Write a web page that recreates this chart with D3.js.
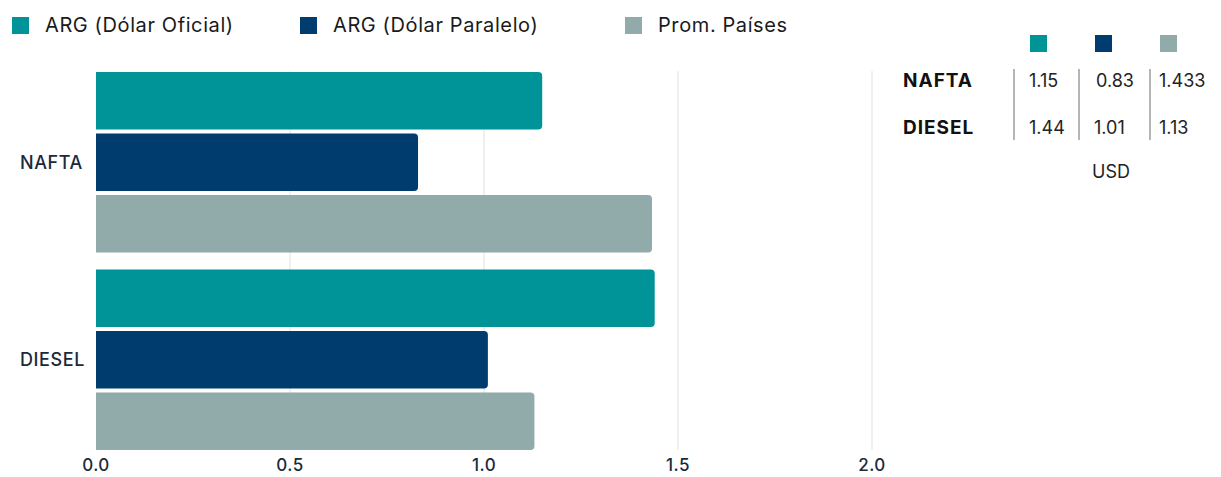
<!DOCTYPE html>
<html>
<head>
<meta charset="utf-8">
<script src="https://cdn.jsdelivr.net/npm/d3@7"></script>
<style>
  body { margin: 0; background: #fff; }
  text { font-family: "Inter", "Open Sans", sans-serif; }
</style>
</head>
<body>
<div id="chart"></div>
<script>
// Data
var categories = ["NAFTA", "DIESEL"];
var seriesNames = ["ARG (Dólar Oficial)", "ARG (Dólar Paralelo)", "Prom. Países"];
var seriesColors = ["#009498", "#003c6e", "#91aaaa"];
var values = [
  [1.15, 0.83, 1.433],   // NAFTA
  [1.44, 1.01, 1.13]     // DIESEL
];
var tableLabels = [
  ["1.15", "0.83", "1.433"],
  ["1.44", "1.01", "1.13"]
];
var xTicks = [0, 0.5, 1.0, 1.5, 2.0];

var svgWidth = 1221;
var svgHeight = 477;

var svg = d3.select("#chart")
  .append("svg")
  .attr("width", svgWidth)
  .attr("height", svgHeight);

// scales
var xScale = d3.scaleLinear().domain([0, 2]).range([96, 872]);
var yScale = d3.scaleBand().domain(categories).range([72, 450]).paddingInner(0.085).paddingOuter(0);
var subScale = d3.scaleBand().domain(d3.range(3)).range([0, yScale.bandwidth()]).paddingInner(0.065);

// gridlines
svg.append("g")
  .selectAll("line")
  .data(xTicks.slice(1))
  .enter()
  .append("line")
  .attr("x1", d => xScale(d))
  .attr("x2", d => xScale(d))
  .attr("y1", 71)
  .attr("y2", 450)
  .attr("stroke", "#dde1e4")
  .attr("stroke-width", 1);

// bar with rounded right end
function barPath(x0, x1, y, h, r) {
  return `M${x0},${y} H${x1 - r} Q${x1},${y} ${x1},${y + r} V${y + h - r} Q${x1},${y + h} ${x1 - r},${y + h} H${x0} Z`;
}

var barData = [];
categories.forEach((c, i) => {
  values[i].forEach((v, j) => barData.push({ cat: c, s: j, v: v }));
});

svg.append("g")
  .selectAll("path")
  .data(barData)
  .enter()
  .append("path")
  .attr("d", d => barPath(xScale(0), xScale(d.v), yScale(d.cat) + subScale(d.s), subScale.bandwidth(), 4))
  .attr("fill", d => seriesColors[d.s]);

// x axis labels
svg.append("g")
  .selectAll("text")
  .data(xTicks)
  .enter()
  .append("text")
  .attr("x", d => xScale(d))
  .attr("y", 471)
  .attr("text-anchor", "middle")
  .attr("font-size", "17px")
  .attr("font-weight", 500)
  .attr("letter-spacing", "0.5px")
  .attr("fill", "#1b2a3a")
  .text(d => d3.format(".1f")(d));

// category labels
svg.append("g")
  .selectAll("text")
  .data(categories)
  .enter()
  .append("text")
  .attr("x", 20)
  .attr("y", d => yScale(d) + yScale.bandwidth() / 2)
  .attr("dy", "0.35em")
  .attr("font-size", "18px")
  .attr("font-weight", 500)
  .attr("letter-spacing", "0.6px")
  .attr("fill", "#1b2a3a")
  .text(d => d);

// legend
var legendX = [12, 300, 625];
var legend = svg.append("g")
  .selectAll("g")
  .data(seriesNames)
  .enter()
  .append("g")
  .attr("transform", (d, i) => `translate(${legendX[i]}, 17)`);

legend.append("rect")
  .attr("width", 17)
  .attr("height", 17)
  .attr("fill", (d, i) => seriesColors[i]);

legend.append("text")
  .attr("x", 33)
  .attr("y", 15)
  .attr("font-size", "20px")
  .attr("letter-spacing", "0.6px")
  .attr("fill", "#1a1a1a")
  .text(d => d);

// side table
var colX = [1030, 1095, 1160];
var sepX = [1014, 1079, 1150];
var rowY = [87, 134];

svg.append("g")
  .selectAll("rect")
  .data(seriesColors)
  .enter()
  .append("rect")
  .attr("x", (d, i) => colX[i])
  .attr("y", 35)
  .attr("width", 17)
  .attr("height", 17)
  .attr("fill", d => d);

svg.append("g")
  .selectAll("line")
  .data(sepX)
  .enter()
  .append("line")
  .attr("x1", d => d)
  .attr("x2", d => d)
  .attr("y1", 69)
  .attr("y2", 140)
  .attr("stroke", "#b5b5b5")
  .attr("stroke-width", 2);

svg.append("g")
  .selectAll("text")
  .data(categories)
  .enter()
  .append("text")
  .attr("x", 903)
  .attr("y", (d, i) => rowY[i])
  .attr("font-size", "19px")
  .attr("font-weight", 700)
  .attr("letter-spacing", "1px")
  .attr("fill", "#111")
  .text(d => d);

tableLabels.forEach((row, i) => {
  svg.append("g")
    .selectAll("text")
    .data(row)
    .enter()
    .append("text")
    .attr("x", (d, j) => colX[j] + (i === 0 && j === 1 ? 1 : -1))
    .attr("y", rowY[i])
    .attr("font-size", "18px")
    .attr("fill", "#222")
    .text(d => d);
});

svg.append("text")
  .attr("x", 1111)
  .attr("y", 178)
  .attr("text-anchor", "middle")
  .attr("font-size", "18px")
  .attr("fill", "#222")
  .text("USD");
</script>
</body>
</html>
